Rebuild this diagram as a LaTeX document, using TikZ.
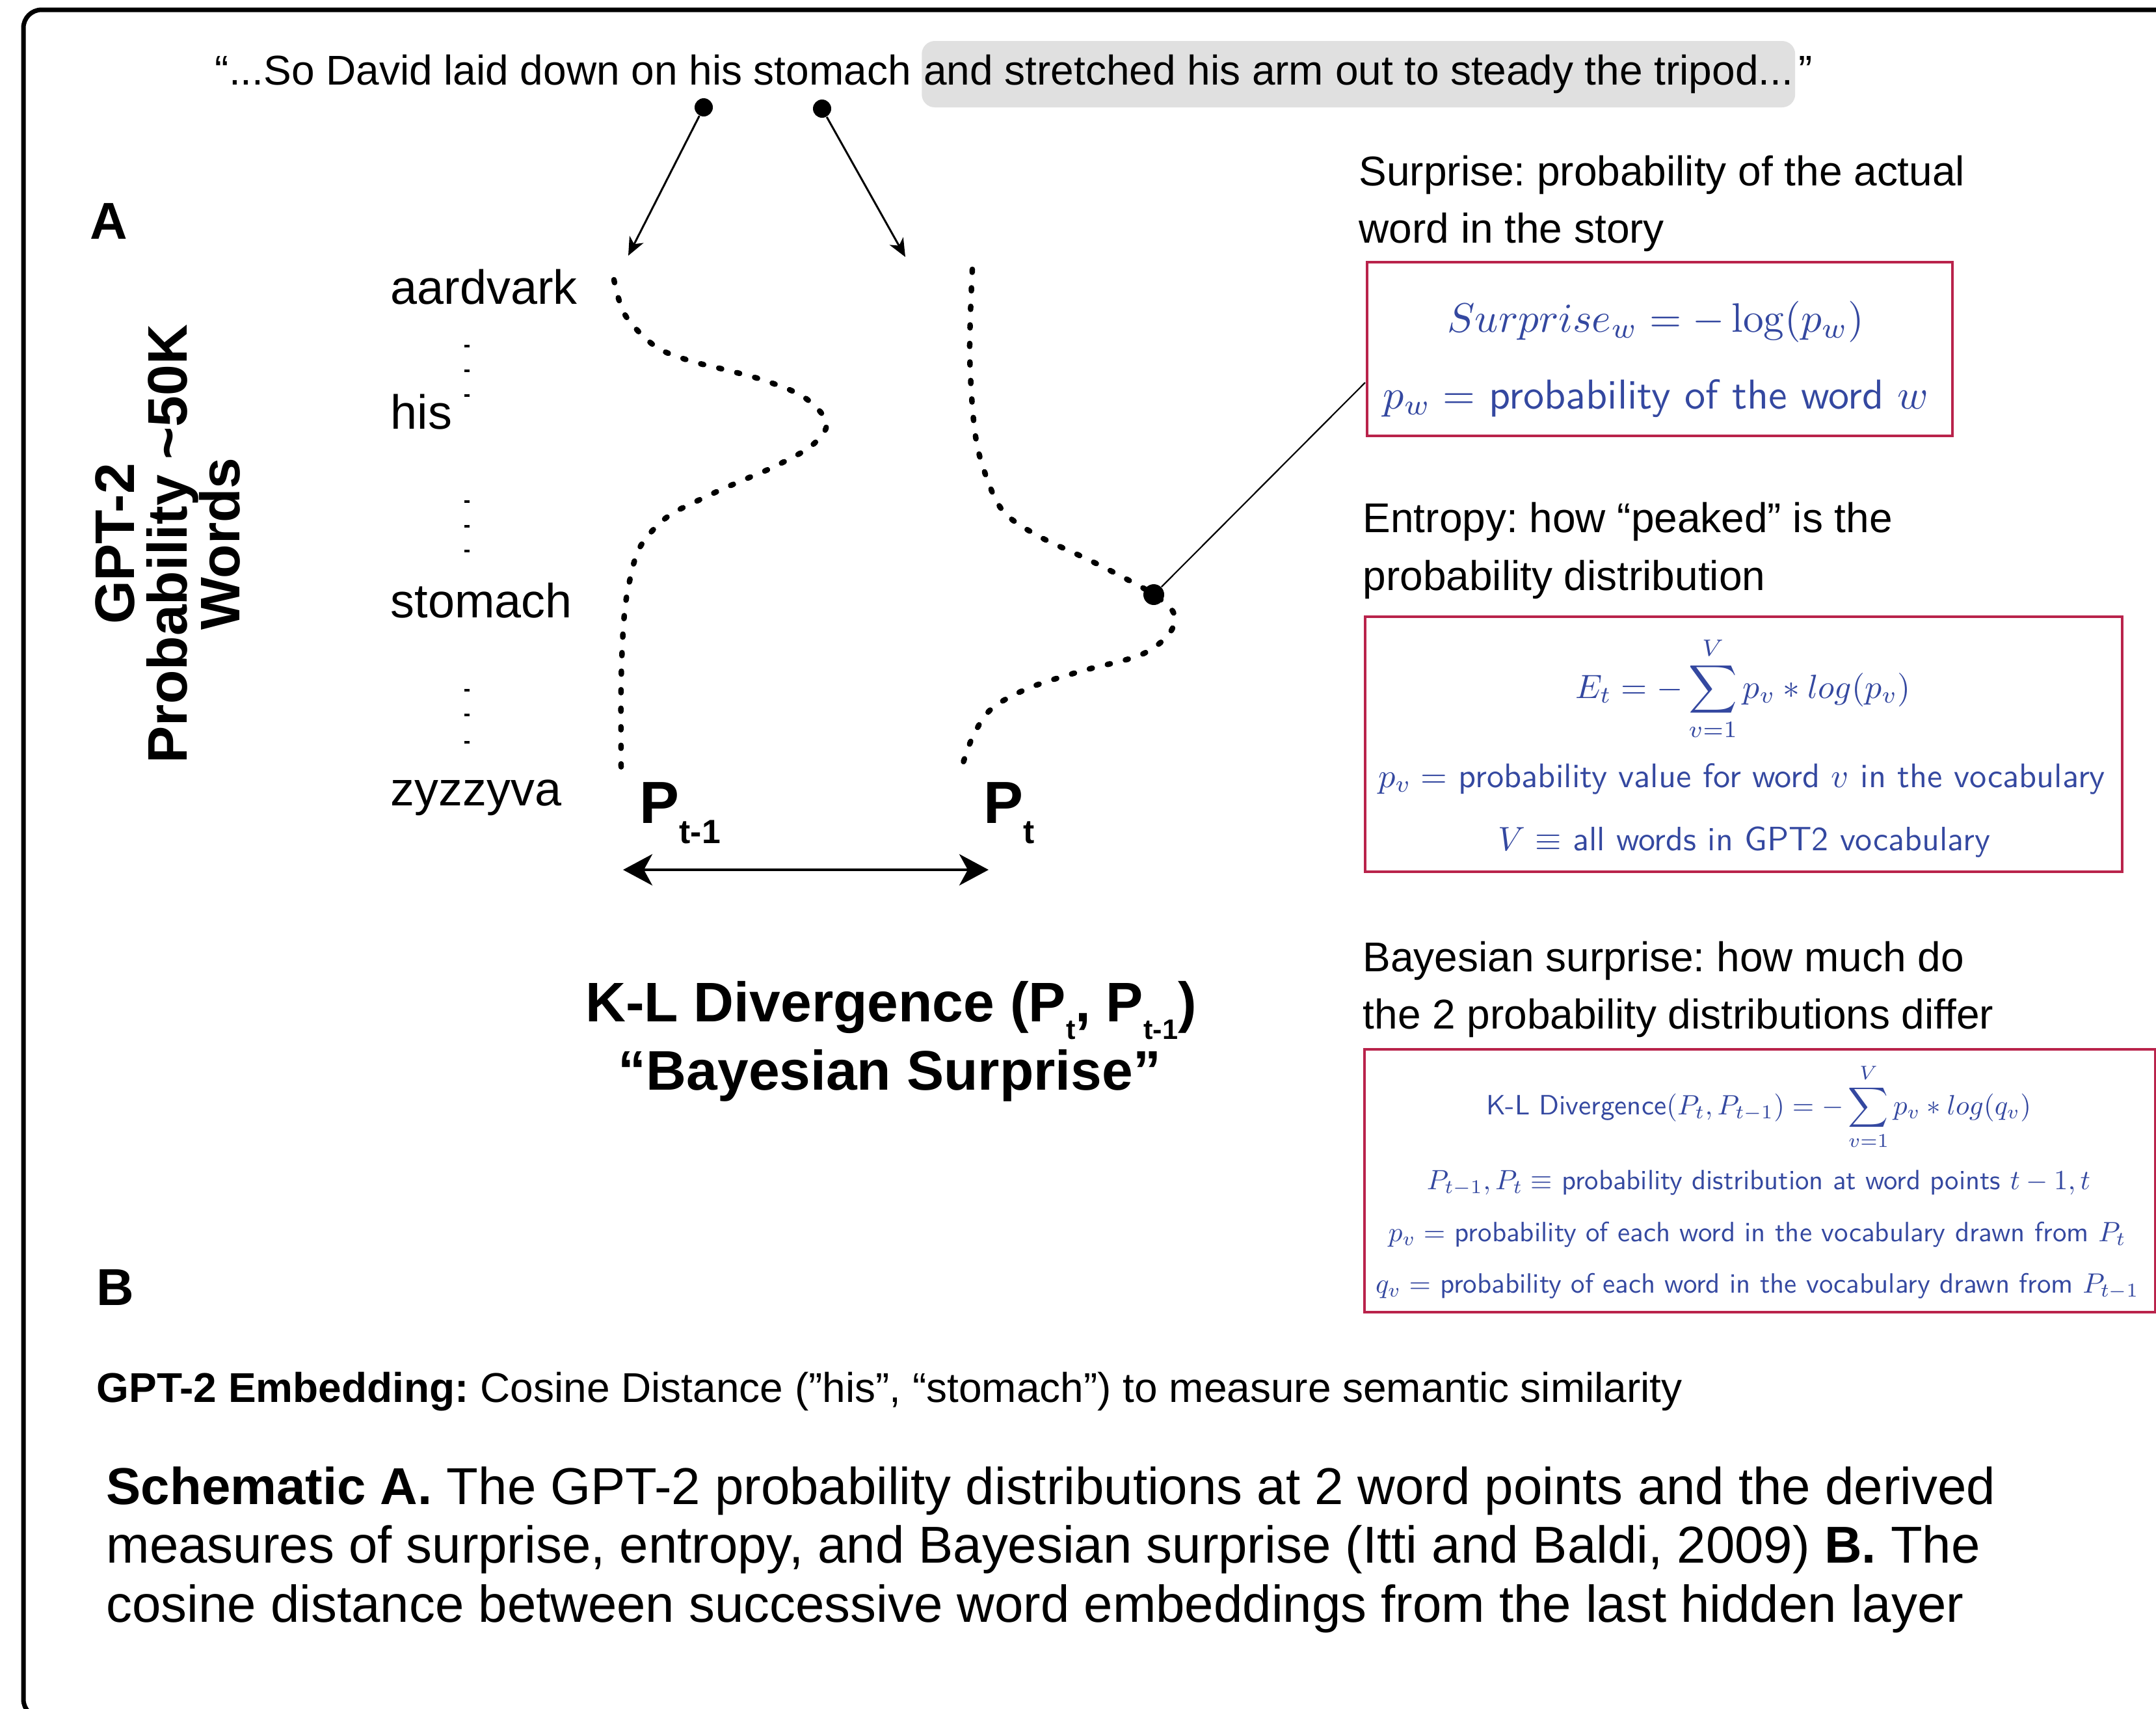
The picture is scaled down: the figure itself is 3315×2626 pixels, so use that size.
\documentclass[tikz,border=0pt]{standalone}
\usepackage[no-math]{fontspec}
\setmainfont{Liberation Sans}
\usepackage{graphicx}
\usetikzlibrary{arrows.meta}
\definecolor{eqblue}{RGB}{52,72,160}
\definecolor{boxred}{RGB}{185,35,75}
\definecolor{hlgray}{RGB}{224,224,224}
\newcommand\fitw[2]{\resizebox{#1}{!}{#2}}
\frenchspacing
\begin{document}
\begin{tikzpicture}[x=0.1mm,y=-0.1mm,
  qt/.style={font=\fontsize{18.2}{21}\selectfont, inner sep=0pt},
  ttl/.style={font=\fontsize{18.2}{21}\selectfont, inner sep=0pt, anchor=base west},
  wlab/.style={font=\fontsize{21}{24}\selectfont, inner sep=0pt, anchor=base west},
  panel/.style={font=\fontsize{22.7}{26}\selectfont\bfseries, inner sep=0pt, anchor=base west},
  capl/.style={font=\fontsize{22.7}{26}\selectfont, inner sep=0pt, anchor=base west},
  bigt/.style={font=\fontsize{24.4}{28}\selectfont\bfseries, inner sep=0pt, anchor=base},
  plab/.style={inner sep=0pt, anchor=base west},
  axisl/.style={font=\fontsize{24.4}{23}\selectfont\bfseries, inner sep=0pt, align=center},
  eq/.style={text=eqblue, font=\sffamily, inner sep=0pt, anchor=base},
  redbox/.style={draw=boxred, line width=0.4mm, inner sep=0pt, anchor=north west},
  wdot/.style={circle, fill=black, inner sep=0pt, minimum size=2.8mm},
  thinarrow/.style={line width=0.3mm, -{Stealth[length=2.8mm,width=2.4mm,inset=0.8mm]}},
  conn/.style={line width=0.22mm},
  dbl/.style={line width=0.45mm, {Stealth[length=4.5mm,width=4.8mm,inset=1.3mm]}-{Stealth[length=4.5mm,width=4.8mm,inset=1.3mm]}},
  curvedots/.style={line width=0.85mm, line cap=round, dash pattern=on 0.45mm off 2.4mm}
]
\useasboundingbox (0,0) rectangle (3315,2626);
% outer frame
\draw[line width=0.7mm, rounded corners=2.8mm] (36,15) rectangle (3345,2640);

% quote
\node[qt, anchor=base west] (q1) at (330,130) {“...So David laid down on his stomach};
\node[qt, fill=hlgray, rounded corners=2mm, inner xsep=0.3mm, inner ysep=0pt,
      text height=6.7mm, text depth=3.5mm, anchor=base west] (q2) at ([xshift=1.5mm]q1.base east)
      {and stretched his arm out to steady the tripod...};
\node[qt, anchor=base west] (q3) at ([xshift=0.4mm]q2.base east) {”};

% word dots and arrows
\node[wdot] (d1) at (1082,165) {};
\node[wdot] (d2) at (1264,167) {};
\coordinate (t1) at (966,393);
\coordinate (t2) at (1392,395);
\draw[thinarrow] (d1) -- (t1);
\draw[thinarrow] (d2) -- (t2);

% panel labels
\node[panel] (pA) at (138,367) {A};
\node[panel] (pB) at (148,2006) {B};

% axis label
\node[axisl, rotate=90] (ylab) at (258,836) {GPT-2\\Probability \textasciitilde50K\\Words};

% word labels
\node[wlab] (waard) at (600,467) {aardvark};
\node[wlab] (whis) at (600,659) {his};
\node[wlab] (wstom) at (600,949) {stomach};
\node[wlab] (wzyz) at (600,1238) {zyzzyva};
\foreach \yy in {532,570,608,771,809,847,1061,1099,1141}
  \fill (714,\yy-2) rectangle (722,\yy+2);

% distributions
\draw[curvedots] plot[smooth, tension=0.55] coordinates {(944,430) (961,484) (1007,532) (1059,554) (1122,570) (1179,586) (1237,611) (1271,650) (1248,685) (1191,717) (1133,742) (1076,768) (1024,796) (984,841) (967,898) (959,956) (955,1051) (955,1179)};
\draw[curvedots] plot[smooth, tension=0.55] coordinates {(1495,414) (1491,541) (1498,656) (1512,720) (1541,784) (1593,822) (1673,860) (1730,889) (1774,914) (1805,943) (1797,975) (1753,1007) (1661,1032) (1581,1058) (1524,1090) (1495,1134) (1478,1182)};
\node[wdot, minimum size=3.2mm] (pk) at (1774,914) {};

% P labels
\node[plab] (pt1) at (983,1265) {{\fontsize{26}{26}\selectfont\bfseries P}\raisebox{-9pt}{\fontsize{14.7}{15}\selectfont\bfseries t-1}};
\node[plab] (pt) at (1512,1265) {{\fontsize{26}{26}\selectfont\bfseries P}\raisebox{-9pt}{\fontsize{14.7}{15}\selectfont\bfseries t}};
\coordinate (k1) at (958,1337);
\coordinate (k2) at (1520,1337);
\draw[dbl] (k1) -- (k2);

\node[bigt] (kl1) at (1370,1570) {K-L Divergence (P\raisebox{-7.7pt}{\fontsize{12.3}{12}\selectfont t}, P\raisebox{-7.7pt}{\fontsize{12.3}{12}\selectfont t-1})};
\node[bigt] (kl2) at (1368,1675) {“Bayesian Surprise”};

% right titles
\node[ttl] (st1) at (2089,285) {Surprise: probability of the actual};
\node[ttl] (st2) at (2089,373) {word in the story};
\node[ttl] (et1) at (2095,818) {Entropy: how “peaked” is the};
\node[ttl] (et2) at (2095,907) {probability distribution};
\node[ttl] (bt1) at (2095,1493) {Bayesian surprise: how much do};
\node[ttl] (bt2) at (2095,1581) {the 2 probability distributions differ};

% boxes
\node[redbox, minimum width=90mm, minimum height=26.7mm] (sbox) at (2100,401) {};
\node[redbox, minimum width=116.4mm, minimum height=39.2mm] (ebox) at (2097,946) {};
\node[redbox, minimum width=121.6mm, minimum height=40.4mm] (kbox) at (2096,1611) {};
\coordinate (sin) at (2099,588);
\draw[conn] (pk) -- (sin);

\node[eq] (s1) at (2546,510) {\fitw{64.1mm}{$\displaystyle Surprise_w = -\log(p_w)$}};
\node[eq] (s2) at (2546,628) {\fitw{83.9mm}{$p_w =$ probability of the word $w$}};

\node[eq] (e1) at (2680,1073) {\fitw{51.6mm}{$\displaystyle E_t = -\sum_{v=1}^{V} p_v * log(p_v)$}};
\node[eq] (e2) at (2678,1210) {\fitw{111.8mm}{$p_v =$ probability value for word $v$ in the vocabulary}};
\node[eq] (e3) at (2682,1307) {\fitw{75.6mm}{$V \equiv$ all words in GPT2 vocabulary}};

\node[eq] (b1) at (2704,1713) {\fitw{83.8mm}{K-L Divergence$(P_t,P_{t-1}) = -\displaystyle\sum_{v=1}^{V} p_v * log(q_v)$}};
\node[eq] (b2) at (2704,1828) {\fitw{102mm}{$P_{t-1},P_t \equiv$ probability distribution at word points $t-1,t$}};
\node[eq] (b3) at (2702,1908) {\fitw{113.4mm}{$p_v =$ probability of each word in the vocabulary drawn from $P_t$}};
\node[eq] (b4) at (2702,1987) {\fitw{117.4mm}{$q_v =$ probability of each word in the vocabulary drawn from $P_{t-1}$}};

% B part
\node[ttl] (emb) at (148,2155) {\textbf{GPT-2 Embedding:} Cosine Distance (”his”, “stomach”) to measure semantic similarity};

% caption
\node[capl] (c1) at (163,2312) {\textbf{Schematic A.} The GPT-2 probability distributions at 2 word points and the derived};
\node[capl] (c2) at (163,2402) {measures of surprise, entropy, and Bayesian surprise (Itti and Baldi, 2009) \textbf{B.} The};
\node[capl] (c3) at (163,2493) {cosine distance between successive word embeddings from the last hidden layer};
\end{tikzpicture}
\end{document}
